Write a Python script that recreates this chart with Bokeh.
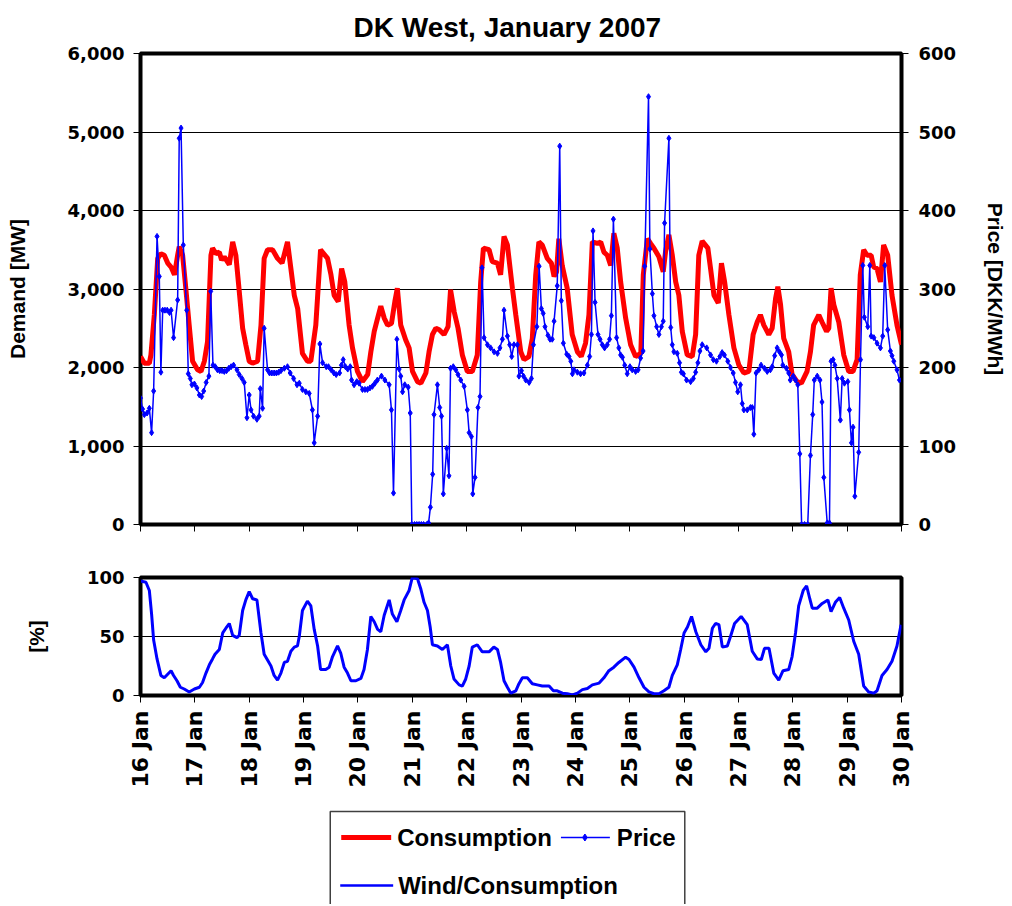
import numpy as np
from bokeh.plotting import figure
from bokeh.models import Range1d, LinearAxis, FixedTicker, NumeralTickFormatter
from bokeh.layouts import column
from bokeh.embed import file_html
from bokeh.resources import INLINE
from bokeh.core.properties import value

# ---------------- data ----------------
title_text = "DK West, January 2007"
day_labels = ["16 Jan", "17 Jan", "18 Jan", "19 Jan", "20 Jan", "21 Jan", "22 Jan",
              "23 Jan", "24 Jan", "25 Jan", "26 Jan", "27 Jan", "28 Jan", "29 Jan", "30 Jan"]
day_hours = [0, 24, 48, 72, 96, 120, 144, 168, 192, 216, 240, 264, 288, 312, 336]
demand_ticks = [0, 1000, 2000, 3000, 4000, 5000, 6000]
price_ticks = [0, 100, 200, 300, 400, 500, 600]
pct_ticks = [0, 50, 100]

# hours since 16 Jan 00:00
cons_hours = [0, 1.7, 3.9, 4.6, 6.1, 7.6, 9.0, 10.5, 12.0, 13.5, 15.0, 16.4, 17.1, 18.6, 20.0, 21.5, 23.0,
              25.2, 26.7, 28.2, 29.6, 31.1, 31.8, 33.3, 34.8, 35.8, 37.0, 39.2, 40.7, 42.1, 43.6, 45.1, 46.5,
              48.0, 49.5, 51.7, 53.2, 54.6, 56.1, 58.3, 60.5, 62.5, 64.9, 66.4, 67.9, 69.4, 71.5, 73.7, 75.2,
              77.4, 79.5, 82.6, 84.1, 85.5, 87.3, 88.8, 90.2, 92.1, 93.6, 95.8, 98.0, 100.3, 101.7, 103.2,
              104.7, 106.1, 107.6, 109.1, 110.8, 112.3, 113.4, 114.9, 117.1, 118.6, 120.1, 122.3, 123.8,
              126.0, 127.4, 128.9, 130.4, 131.9, 134.0, 135.8, 136.9, 138.5, 140.2, 142.1, 144.3, 146.5,
              148.7, 150.2, 151.4, 153.9, 155.3, 157.6, 159.0, 160.5, 162.0, 164.2, 165.7, 167.9, 169.3,
              171.5, 173.0, 174.5, 175.9, 177.4, 179.6, 181.4, 182.6, 183.7, 184.7, 186.2, 188.4, 190.6,
              192.9, 194.6, 196.5, 198.0, 199.5, 201.7, 203.2, 204.6, 206.1, 207.6, 209.0, 210.5, 212.0,
              214.2, 216.4, 218.6, 220.9, 222.0, 223.8, 225.2, 226.7, 228.9, 230.8, 231.8, 233.3, 234.8,
              236.3, 237.7, 239.2, 241.4, 243.6, 245.1, 246.5, 248.0, 250.5, 251.7, 253.2, 255.1, 256.5,
              257.9, 259.8, 262.0, 264.2, 266.4, 268.6, 270.5, 272.3, 273.7, 275.2, 277.4, 278.9, 280.4,
              281.4, 282.6, 284.0, 286.2, 287.7, 289.9, 291.8, 294.3, 295.8, 297.2, 299.5, 300.9, 302.9,
              303.9, 304.9, 306.1, 308.3, 310.5, 312.7, 314.6, 316.4, 317.8, 319.3, 320.8, 322.6, 323.7,
              325.2, 326.7, 328.1, 329.9, 331.8, 334.0, 336.0]
cons_mw = [2140, 2055, 2055, 2160, 2670, 3390, 3450, 3430, 3330, 3280, 3180, 3430, 3540, 3430, 3010, 2540, 2080,
           1970, 1950, 2080, 2330, 3430, 3520, 3450, 3470, 3370, 3410, 3310, 3600, 3430, 2970, 2500, 2290,
           2080, 2055, 2080, 2540, 3390, 3500, 3500, 3390, 3330, 3600, 3260, 2920, 2750, 2180, 2080, 2080,
           2540, 3500, 3390, 3180, 2920, 2840, 3260, 3090, 2540, 2250, 1950, 1820, 1910, 2200, 2460,
           2630, 2780, 2630, 2540, 2560, 2840, 3010, 2540, 2350, 2250, 1950, 1820, 1800,
           1930, 2200, 2420, 2500, 2480, 2420, 2520, 2990, 2710, 2500, 2160, 1950, 1950,
           2160, 3090, 3520, 3500, 3350, 3330, 3180, 3670, 3560, 3010, 2670, 2200, 2100,
           2140, 2370, 3180, 3600, 3560, 3390, 3330, 3160, 3220, 3640, 3300, 3010, 2420,
           2200, 2140, 2310, 2670, 3600, 3580, 3600, 3470, 3430, 3300, 3710, 3520, 3090,
           2630, 2290, 2140, 2180, 3180, 3640, 3580, 3520, 3410, 3220, 3470, 3690, 3430,
           3090, 2920, 2460, 2160, 2140, 2420, 3430, 3610, 3520, 3260, 2920, 2820, 3330,
           3090, 2670, 2250, 2030, 1930, 1950, 2420, 2580, 2670, 2540, 2420, 2500, 2880,
           3030, 2800, 2370, 2200, 1910, 1820, 1800, 1950, 2200, 2540, 2670, 2580, 2460,
           2500, 3010, 2800, 2580, 2160, 1950, 1950, 2100, 3180, 3500, 3430, 3430, 3280,
           3260, 3090, 3560, 3430, 2920, 2540, 2290]

price_hours = [0, 0.9, 1.7, 2.9, 3.9, 4.9, 5.8, 7.3, 8.3, 9.0, 9.8, 10.8, 11.8, 12.8, 13.5, 14.6, 16.4, 17.1,
               17.9, 18.9, 20.4, 21.1, 22.0, 22.7, 23.8, 24.9, 26.0, 27.0, 27.9, 29.0, 30.2, 31.0, 32.0, 33.0,
               34.0, 35.0, 36.0, 37.0, 38.0, 39.0, 40.0, 41.1, 42.6, 43.6, 44.8, 45.8, 47.0, 48.0, 48.8, 49.9,
               51.4, 52.4, 52.9, 53.9, 54.6, 56.1, 57.0, 58.0, 59.0, 60.0, 61.0, 62.0, 63.5, 64.9, 66.1, 67.6,
               69.1, 70.1, 71.5, 73.0, 74.5, 75.9, 76.7, 78.2, 79.2,
               80.4, 82.0, 83.0, 84.2, 85.4, 86.4, 87.9, 88.7, 89.5, 90.5, 91.5, 92.6, 93.2, 94.3, 95.5, 96.5,
               98.0, 99.1, 100.2, 101.3, 102.4, 103.5, 104.6, 106.4, 107.9, 109.8, 110.8, 111.7, 113.2, 114.2,
               114.9, 115.7, 116.7, 118.2, 119.1, 119.8, 121.0, 122.0, 123.0, 124.0, 125.0, 126.4, 127.2,
               128.0, 129.0, 129.6, 131.1, 132.1, 132.9, 133.7, 135.2, 136.2, 136.9, 138.1, 139.2, 140.2,
               141.4, 142.9, 144.3, 145.1, 146.1, 146.7, 147.7, 149.0, 149.9, 150.8, 151.7, 153.2, 154.6,
               156.1, 157.6, 158.7, 159.8, 160.5, 162.0, 163.0, 163.9, 164.9, 166.4, 167.1,
               168.2, 169.1, 170.1, 171.6, 172.6, 173.5, 175.0, 176.0, 177.0, 177.8, 178.6, 179.9, 180.8,
               181.8, 182.6, 184.0, 185.1, 185.8, 186.7, 188.2, 189.2, 190.0, 190.7, 191.4, 192.9, 194.3,
               195.8, 197.3, 198.3, 199.1, 199.8, 200.7, 202.0, 202.9, 203.9, 204.9, 206.1, 207.1, 207.9,
               208.8, 210.2, 211.2, 212.0, 212.8, 213.8, 214.9, 216.1, 217.1, 218.6, 219.7, 220.8, 221.9,
               222.6, 224.3, 224.9, 226.0, 226.7, 227.9, 228.9, 230.0, 230.8, 231.4, 233.3, 234.1, 234.8,
               235.5, 237.0, 238.0, 238.8, 239.7, 241.1, 242.9, 244.1, 245.1, 246.1, 247.0, 248.0,
               250.0, 251.7, 252.9, 254.3, 255.8, 256.8, 257.8, 259.3, 260.5, 261.7, 262.7, 263.7, 264.9,
               265.7, 266.4, 267.9, 269.3, 270.1, 270.8, 271.8, 273.0, 274.0, 275.5, 276.7, 278.1, 278.9,
               280.0, 281.1, 282.1, 283.0, 283.6, 285.2, 286.2, 286.9, 288.2, 289.2, 290.2, 291.1, 291.9,
               293.2, 294.6, 295.8, 296.8, 297.5, 298.8, 300.0, 300.9, 301.7, 303.2, 304.2, 304.9, 305.8,
               306.6, 307.6, 309.0, 309.8, 310.8, 312.3, 313.0, 313.9, 314.6, 315.4, 317.1, 317.9, 318.9,
               319.6, 321.1, 322.0, 322.6, 323.8, 325.2, 326.7, 327.7, 328.6, 329.9, 331.1, 331.8, 332.6,
               334.0, 335.1]
price_dkk = [161, 147, 140, 142, 148, 117, 170, 367, 316, 194, 273, 273, 273, 270, 273, 238, 286, 492,
             505, 356, 273, 192, 186, 178, 179, 174, 165, 163, 170, 181, 189, 297, 203, 201,
             197, 196, 196, 195, 196, 199, 201, 203, 197, 191, 186, 181, 136, 165, 146, 138,
             134, 138, 173, 148, 250, 197, 193, 193, 193, 193, 194, 196, 199, 201, 193, 186,
             178, 180, 172, 169, 167, 146, 104, 138, 230,
             206, 201, 201, 197, 193, 191, 193, 203, 210, 201, 198, 201, 184, 178, 182, 180,
             172, 172, 172, 174, 176, 180, 184, 189, 184, 178, 146, 40, 236, 198,
             189, 169, 178, 175, 142, 0, 0, 0, 0, 0, 0, 0, 2,
             22, 64, 140, 178, 149, 138, 39, 97, 62, 199, 201, 197, 191,
             184, 176, 146, 117, 112, 39, 60, 149, 163, 327, 238, 229, 225,
             220, 218, 225, 236, 273, 240, 229, 214, 229, 229, 189,
             196, 189, 184, 181, 186, 229, 252, 329, 275, 269, 252, 241, 236,
             236, 259, 304, 482, 285, 231, 217, 214, 208, 192, 197, 194, 192,
             193, 203, 214, 242, 374, 283, 242, 236, 229, 225, 229, 236, 266,
             389, 238, 225, 216, 213, 203, 192, 201, 197, 195, 197, 212, 221,
             329, 545, 351, 294, 266, 252, 242, 252, 259, 384, 492, 251, 229,
             220, 218, 206, 194, 192, 184, 182, 186, 194, 206, 221, 229,
             225, 216, 210, 208, 214, 219, 216, 208, 200, 193, 181, 169, 178,
             154, 146, 146, 149, 149, 115, 193, 197, 203, 199, 195, 197, 201,
             215, 225, 220, 216, 203, 199, 193, 184, 189, 184, 178, 90, 0,
             0, 0, 88, 140, 184, 189, 184, 156, 60, 2, 2, 208, 210,
             203, 186, 133, 186, 180, 182, 146, 104, 124, 36, 92, 210, 330,
             264, 252, 330, 240, 238, 231, 225, 240, 330, 248, 221, 215, 208,
             197, 184]

wind_hours = [0, 2.4, 3.9, 4.9, 5.8, 7.3, 9.0, 10.5, 12.0, 13.5, 14.6, 16.1, 17.6, 19.3, 21.5, 23.8, 26.0,
              27.4, 28.9, 30.4, 31.8, 32.9, 34.8, 36.3, 37.7, 39.2, 40.7, 42.6, 43.6, 45.1, 46.5, 48.0, 49.5,
              51.4, 53.2, 54.6, 56.4, 57.6, 59.0, 60.5, 62.0, 63.5, 64.9, 66.4, 67.9, 69.3, 70.1, 71.5, 73.7,
              75.2, 76.7, 78.2, 79.5, 81.8, 83.3, 84.8, 87.0, 88.4, 89.9, 91.4, 92.9, 95.1, 97.3, 98.7, 100.2,
              101.7, 103.2, 104.7, 106.1, 107.6, 109.8, 111.2, 113.2, 114.9, 116.4, 118.6, 120.0, 122.3, 123.8,
              125.2, 126.7, 127.9, 128.9, 131.1, 133.3, 135.5, 137.0, 138.4, 140.7, 142.1, 143.6, 145.1, 146.5,
              148.7, 150.9, 153.9, 156.0, 157.6, 159.0, 160.5, 162.0, 163.5, 165.7, 167.1, 168.6, 170.8, 173.0,
              175.2, 177.4, 180.4, 182.3, 184.0, 186.3, 188.5, 190.7, 192.9, 195.1, 197.3, 199.5, 202.5, 204.6,
              206.8, 209.0, 211.2, 214.2, 215.7, 217.9, 220.1, 222.3, 224.5, 226.7, 228.9, 231.1, 233.3, 234.8,
              237.0, 238.5, 240.0, 241.5, 243.3, 245.2, 247.4, 249.6, 251.0, 252.5, 253.9, 255.4, 256.9, 259.1,
              260.5, 262.3, 265.2, 267.9, 270.1, 272.3, 274.1, 275.5, 277.5, 279.6, 281.8, 283.7, 286.2, 287.7,
              289.2, 290.6, 292.6, 294.1, 295.5, 296.6, 298.8, 301.0, 303.5, 304.9, 306.8, 308.7, 310.5, 312.7,
              314.9, 317.1, 319.3, 321.5, 323.8, 325.2, 327.4, 329.6, 331.8, 334.0, 335.8]
wind_pct = [97, 96, 89, 69, 47, 31, 17, 15, 18, 21, 17, 12.5, 7, 5.5, 3, 5.5, 7,
            11, 19, 26, 31, 35, 39, 53, 57, 61, 51, 49, 51, 72, 81, 88, 82,
            81, 53, 35, 29, 25, 17, 13, 19, 28, 29, 37.5, 41, 42, 50, 72, 80,
            76, 56, 42, 22, 22, 24, 33, 42, 36, 24, 19, 12.5, 12.5, 14.5, 22, 39,
            67, 62.5, 56, 54, 68, 81, 69, 62.5, 72, 81, 89, 100, 99, 90,
            79, 72, 58, 43, 42, 39, 43, 25, 14, 9, 8, 14, 25, 41,
            43, 37, 37, 41, 39, 28, 12.5, 7, 2, 4, 10, 15, 15, 10,
            9, 8, 8, 4, 4, 2, 1.5, 0.5, 2, 5, 6, 9, 10.5, 15,
            21, 24, 28, 32.5, 30.5, 24, 15, 7, 3, 1.5, 1.5, 4, 7, 17,
            26, 39, 53, 58, 67, 54, 43, 37, 40, 57, 61, 60, 41, 42,
            50, 61, 67, 60, 37.5, 31, 30.5, 40, 40, 19, 13, 21, 22, 33,
            53, 76, 89, 93, 82, 74, 74, 78, 81, 71, 79, 83, 74, 64,
            46, 35, 8, 3, 2, 4, 17, 22, 29, 42, 60]

# ---------------- styling ----------------
RED = "#FF0000"
BLUE = "#0000FF"
TICK_FONT = "DejaVu Sans"
LABEL_FONT = "Liberation Sans"
FIG_W = 1010
BORDER_L = 140
BORDER_R = 108


def style_axis(ax, label=None):
    ax.major_label_text_font = TICK_FONT
    ax.major_label_text_font_size = "18px"
    ax.major_label_text_font_style = "bold"
    ax.major_label_text_color = "black"
    ax.major_tick_out = 7
    ax.major_tick_in = 0
    ax.minor_tick_out = 0
    ax.minor_tick_in = 0
    ax.axis_line_color = "black"
    ax.major_tick_line_color = "black"
    ax.major_tick_line_width = 1
    if label is not None:
        ax.axis_label = label
        ax.axis_label_text_font = LABEL_FONT
        ax.axis_label_text_font_size = "21px"
        ax.axis_label_text_font_style = "bold"
        ax.axis_label_text_color = "black"


# ---------------- top panel ----------------
top = figure(width=FIG_W, height=544, x_range=Range1d(0, 336), y_range=Range1d(0, 6000),
             output_backend="svg", toolbar_location=None,
             min_border_left=BORDER_L, min_border_right=BORDER_R, min_border_top=53, min_border_bottom=20)
top.title.text = title_text
top.title.text_font = LABEL_FONT
top.title.text_font_size = "28px"
top.title.text_font_style = "bold"
top.title.text_color = "black"
top.title.align = "left"
top.title.offset = 213
top.title.vertical_align = "top"
top.title.standoff = 17
top.outline_line_color = "black"
top.outline_line_width = 4
top.outline_line_alpha = 1

yax = top.yaxis[0]
yax.ticker = FixedTicker(ticks=demand_ticks)
yax.formatter = NumeralTickFormatter(format="0,0")
style_axis(yax, "Demand [MW]")
yax.major_label_standoff = 9
yax.axis_label_standoff = 36

top.extra_y_ranges = {"price": Range1d(0, 600)}
rax = LinearAxis(y_range_name="price", ticker=FixedTicker(ticks=price_ticks))
style_axis(rax, "Price [DKK/MWh]")
rax.major_label_standoff = 10
rax.axis_label_standoff = 25
top.add_layout(rax, "right")

# day ticks only (no labels) under the upper panel
xax = top.xaxis[0]
xax.ticker = FixedTicker(ticks=[], minor_ticks=day_hours)
style_axis(xax)
xax.minor_tick_out = 7
xax.minor_tick_in = 0
xax.minor_tick_line_color = "black"
xax.minor_tick_line_width = 1

top.ygrid.ticker = FixedTicker(ticks=demand_ticks)
top.ygrid.grid_line_color = "black"
top.ygrid.grid_line_width = 1
top.ygrid.grid_line_alpha = 1
top.xgrid.visible = False

top.line(cons_hours, cons_mw, color=RED, line_width=5)
top.line(price_hours, price_dkk, y_range_name="price", color=BLUE, line_width=1.5)
top.scatter(price_hours, price_dkk, y_range_name="price", marker="diamond", size=6,
            color=BLUE)

# ---------------- bottom panel ----------------
bot = figure(width=FIG_W, height=246, x_range=top.x_range, y_range=Range1d(0, 100),
             output_backend="svg", toolbar_location=None,
             min_border_left=BORDER_L, min_border_right=BORDER_R, min_border_top=33, min_border_bottom=93)
bot.outline_line_color = "black"
bot.outline_line_width = 4
bot.outline_line_alpha = 1

byax = bot.yaxis[0]
byax.ticker = FixedTicker(ticks=pct_ticks)
style_axis(byax, "[%]")
byax.major_label_standoff = 9
byax.axis_label_standoff = 36

bxax = bot.xaxis[0]
bxax.ticker = FixedTicker(ticks=day_hours)
bxax.major_label_overrides = {h: lab for h, lab in zip(day_hours, day_labels)}
style_axis(bxax)
bxax.major_label_text_font_size = "22px"
bxax.major_label_orientation = np.pi / 2
bxax.major_label_standoff = 8

bot.ygrid.ticker = FixedTicker(ticks=pct_ticks)
bot.ygrid.grid_line_color = "black"
bot.ygrid.grid_line_width = 1
bot.ygrid.grid_line_alpha = 1
bot.xgrid.visible = False

bot.line(wind_hours, wind_pct, color=BLUE, line_width=3)

# ---------------- legend (own panel, data units = page pixels) ----------------
LEG_TOP, LEG_BOT = 790, 904
leg = figure(width=FIG_W, height=LEG_BOT - LEG_TOP,
             x_range=Range1d(BORDER_L, FIG_W - BORDER_R), y_range=Range1d(LEG_BOT, LEG_TOP),
             output_backend="svg", toolbar_location=None,
             x_axis_location=None, y_axis_location=None,
             min_border_left=BORDER_L, min_border_right=BORDER_R, min_border_top=0, min_border_bottom=0)
leg.outline_line_color = None
leg.grid.visible = False
leg.line([330, 330, 685, 685], [LEG_BOT, 811, 811, LEG_BOT], color="#404040", line_width=1.5)
leg.line([341, 391], [837, 837], color=RED, line_width=5)
leg.line([561, 610], [837, 837], color=BLUE, line_width=1.5)
leg.scatter([585], [837], marker="diamond", size=7, color=BLUE)
leg.line([340, 393], [885, 885], color=BLUE, line_width=2.5)
common = dict(text_font=value(LABEL_FONT), text_font_size="24px", text_font_style="bold",
              text_baseline="middle", text_align="left", text_color="black")
leg.text(x=[397], y=[837], text=["Consumption"], **common)
leg.text(x=[617], y=[837], text=["Price"], **common)
leg.text(x=[398], y=[885], text=["Wind/Consumption"], **common)

layout = column(top, bot, leg)
open("out.html", "w").write(file_html(layout, INLINE))
